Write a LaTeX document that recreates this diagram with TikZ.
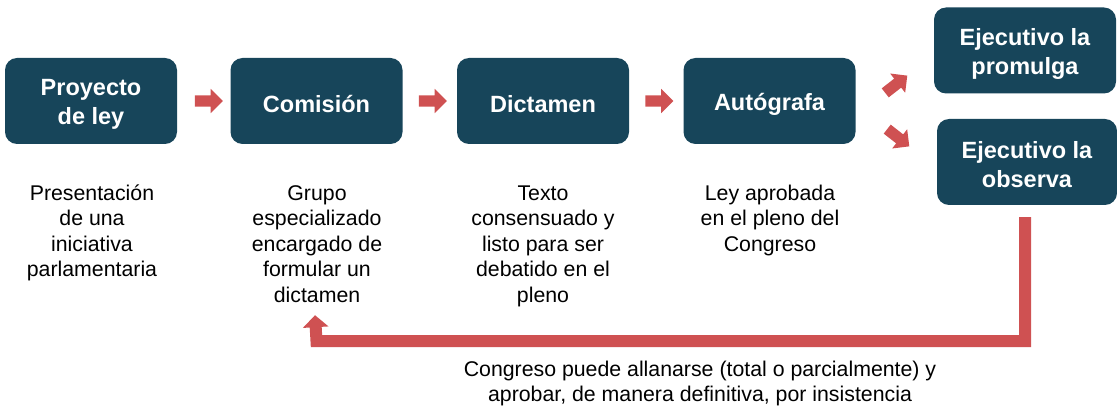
\documentclass[tikz,border=0pt]{standalone}
\usepackage{fontspec}
\setmainfont{Liberation Sans}
\usetikzlibrary{shapes.arrows,arrows.meta}
\definecolor{boxc}{HTML}{17455A}
\definecolor{redc}{HTML}{CF5152}
\tikzset{
  stepbox/.style={fill=boxc,rounded corners=12pt,minimum width=172pt,minimum height=86pt,inner sep=0pt},
  boxtext/.style={text=white,font=\fontsize{23.5}{29}\selectfont\bfseries,align=center,inner sep=0pt,yshift=-3pt},
  desc/.style={anchor=north,align=center,inner sep=0pt,font=\fontsize{21.3}{25.5}\selectfont,text=black},
  blockarrow/.style={single arrow,fill=redc,draw=none,minimum height=28pt,minimum width=24pt,
    single arrow head extend=6.5pt,inner sep=5.5pt,single arrow tip angle=90},
}
\begin{document}
\begin{tikzpicture}[x=1pt,y=-1pt]
\useasboundingbox (0,0) rectangle (1117,406);
\node[stepbox,label={[boxtext]center:Proyecto\\de ley}] (proy) at (91,101) {};
\node[stepbox,label={[boxtext]center:Comisión}] (com) at (316.5,101) {};
\node[stepbox,label={[boxtext]center:Dictamen}] (dic) at (543,101) {};
\node[stepbox,label={[boxtext]center:Autógrafa}] (aut) at (769.5,101) {};
\node[stepbox,minimum width=182pt,label={[boxtext]center:Ejecutivo la\\promulga}] (prom) at (1025,50.5) {};
\node[stepbox,minimum width=180pt,label={[boxtext]center:Ejecutivo la\\observa}] (obs) at (1027,162) {};

\node[blockarrow] (a1) at (206,101) {};
\node[blockarrow] (a2) at (430,101) {};
\node[blockarrow] (a3) at (656.5,101) {};
\node[blockarrow,rotate=38] (a4) at (894,86) {};
\node[blockarrow,rotate=-38] (a5) at (896,136) {};

\node[desc] (d1) at (92,182) {\strut Presentación\\de una\\iniciativa\\parlamentaria};
\node[desc] (d2) at (317,182) {\strut Grupo\\especializado\\encargado de\\formular un\\dictamen};
\node[desc] (d3) at (543,182) {\strut Texto\\consensuado y\\listo para ser\\debatido en el\\pleno};
\node[desc] (d4) at (770,182) {\strut Ley aprobada\\en el pleno del\\Congreso};
\node[desc] (d5) at (700,358) {\strut Congreso puede allanarse (total o parcialmente) y\\aprobar, de manera definitiva, por insistencia};

\coordinate (s) at ([xshift=-2pt,yshift=-12pt]obs.south);
\coordinate (t) at ([xshift=-1.5pt,yshift=-171pt]com.south);
\draw[redc,line width=12pt,line join=miter,-{Triangle[width=25pt,length=12pt]}]
  (s) |- ([yshift=-197pt]com.south) -- (t);
\end{tikzpicture}
\end{document}
